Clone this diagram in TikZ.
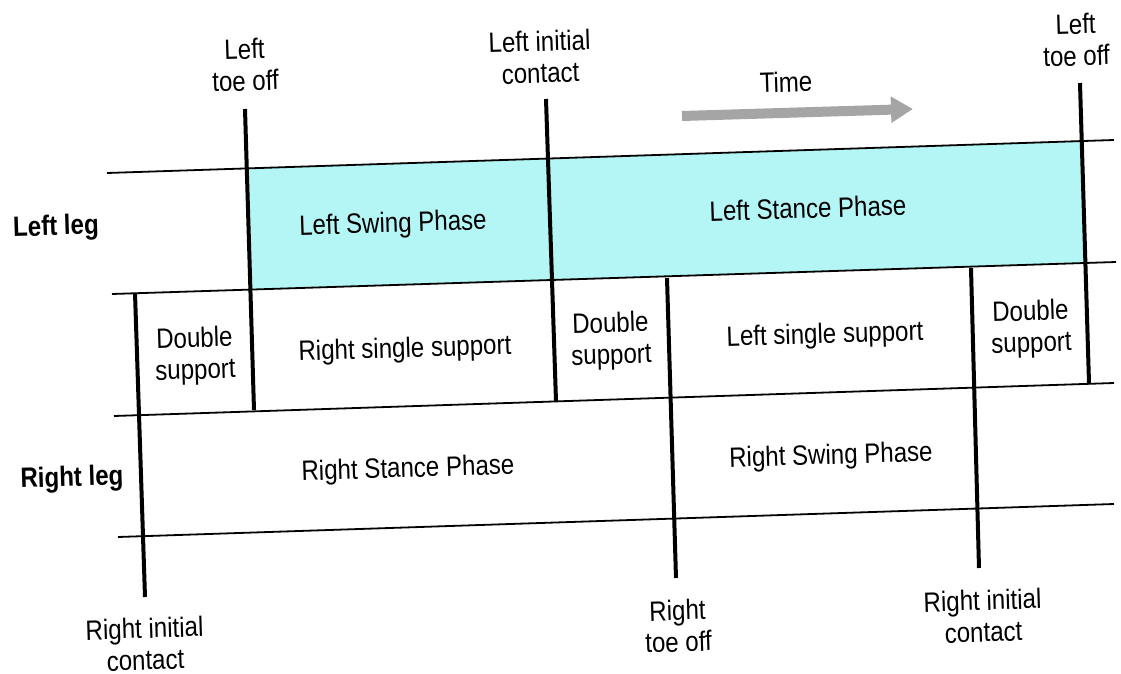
\documentclass[tikz,border=0pt]{standalone}
\usepackage{fontspec}
\setmainfont{Liberation Sans}[FakeStretch=0.86]
\usetikzlibrary{arrows.meta}
\definecolor{swingcyan}{RGB}{180,245,245}
\definecolor{arrowgray}{RGB}{165,165,165}
\begin{document}
\begin{tikzpicture}[x=0.5pt,y=-0.5pt,
  hline/.style={line width=0.9pt},
  vline/.style={line width=2pt},
  lbl/.style={align=center, font=\fontsize{14}{15.8}\selectfont, rotate=1.8, inner sep=0pt},
  leg/.style={lbl, font=\fontsize{14}{15.8}\selectfont\bfseries}]
\useasboundingbox (0,0) rectangle (1121,674);
% horizontal lines end points
\coordinate (A1) at (107,173); \coordinate (A2) at (1114,140);
\coordinate (B1) at (112,294); \coordinate (B2) at (1116,262);
\coordinate (C1) at (114,416); \coordinate (C2) at (1114,383);
\coordinate (D1) at (118,537); \coordinate (D2) at (1114,504);
% vertical event lines
\coordinate (V1t) at (135,293); \coordinate (V1b) at (145,597);
\coordinate (V2t) at (245,109); \coordinate (V2b) at (254,410);
\coordinate (V3t) at (546,99);  \coordinate (V3b) at (556,401);
\coordinate (V4t) at (667,278); \coordinate (V4b) at (676,578);
\coordinate (V5t) at (971,268); \coordinate (V5b) at (979,568);
\coordinate (V6t) at (1080,83); \coordinate (V6b) at (1089,383);
% cyan band (left leg phases)
\fill[swingcyan] (intersection of A1--A2 and V2t--V2b) --
  (intersection of A1--A2 and V6t--V6b) --
  (intersection of B1--B2 and V6t--V6b) --
  (intersection of B1--B2 and V2t--V2b) -- cycle;
\draw[hline] (A1) -- (A2);
\draw[hline] (B1) -- (B2);
\draw[hline] (C1) -- (C2);
\draw[hline] (D1) -- (D2);
\draw[vline] (V1t) -- (V1b);
\draw[vline] (V2t) -- (V2b);
\draw[vline] (V3t) -- (V3b);
\draw[vline] (V4t) -- (V4b);
\draw[vline] (V5t) -- (V5b);
\draw[vline] (V6t) -- (V6b);
% event labels
\node[lbl] (lto1) at (245,65) {Left\\toe off};
\node[lbl] (lic) at (540,57) {Left initial\\contact};
\node[lbl] (lto2) at (1076,40) {Left\\toe off};
\node[lbl] (ric1) at (145,644) {Right initial\\contact};
\node[lbl] (rto) at (678,626) {Right\\toe off};
\node[lbl] (ric2) at (983,616) {Right initial\\contact};
% time arrow
\node[lbl] (time) at (786,82) {Time};
\coordinate (T1) at (682,116);
\coordinate (T2) at (913,109);
\draw[arrowgray, line width=5pt, -{Triangle[length=11pt,width=12.5pt]}] (T1) -- (T2);
% row labels
\node[leg] (lleg) at (56,228) {Left leg};
\node[leg] (rleg) at (72,479) {Right leg};
% phase labels
\node[lbl] (lsw) at (393,225) {Left Swing Phase};
\node[lbl] (lst) at (808,208) {Left Stance Phase};
\node[lbl] (ds1) at (195,356) {Double\\support};
\node[lbl] (rss) at (405,350) {Right single support};
\node[lbl] (ds2) at (611,341) {Double\\support};
\node[lbl] (lss) at (825,336) {Left single support};
\node[lbl] (ds3) at (1031,329) {Double\\support};
\node[lbl] (rst) at (408,470) {Right Stance Phase};
\node[lbl] (rsw) at (831,457) {Right Swing Phase};
\end{tikzpicture}
\end{document}
